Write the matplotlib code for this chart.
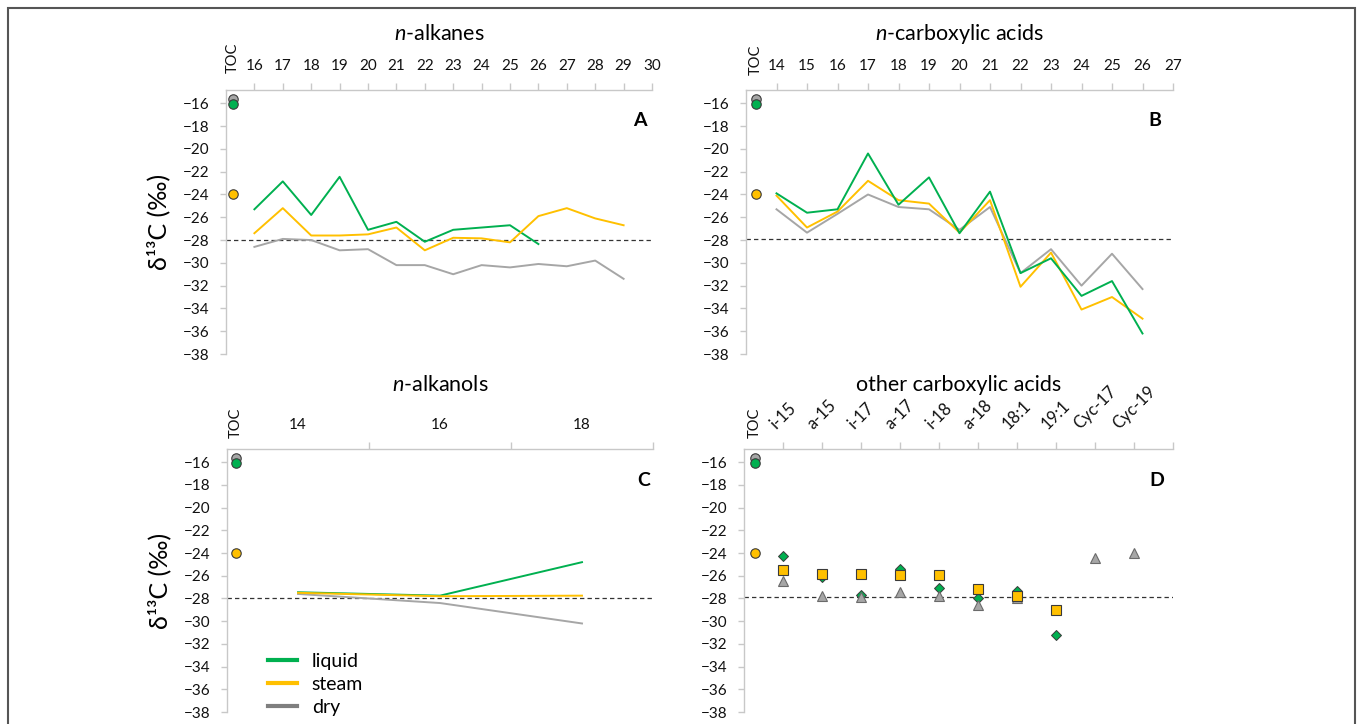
import numpy as np
import matplotlib
matplotlib.use('Agg')
import matplotlib.pyplot as plt
from matplotlib.lines import Line2D
from matplotlib.patches import Rectangle


plt.rcParams['font.family'] = ['Lato', 'DejaVu Sans']
plt.rcParams['mathtext.fontset'] = 'custom'
plt.rcParams['mathtext.rm'] = 'Lato'
plt.rcParams['mathtext.it'] = 'Lato:italic'

GREEN = '#00B050'
YELLOW = '#FFC000'
GRAY = '#A6A6A6'
EDGE = '#3a3a3a'
AXIS = '#c8c8c8'

# TOC values (liquid, steam, dry)
toc_liquid = -16.05
toc_steam = -23.95
toc_dry = -15.6

# A: n-alkanes
alk_x = list(range(16, 30))
alk_liquid = [-25.3, -22.85, -25.8, -22.45, -27.1, -26.4, -28.15, -27.1, -26.9, -26.7, -28.35]
alk_steam = [-27.4, -25.2, -27.6, -27.6, -27.5, -26.9, -28.9, -27.8, -27.85, -28.2, -25.9, -25.2, -26.1, -26.7]
alk_dry = [-28.6, -27.9, -28.0, -28.9, -28.8, -30.2, -30.2, -31.0, -30.2, -30.4, -30.1, -30.3, -29.8, -31.4]

# B: n-carboxylic acids
acid_x = list(range(14, 27))
acid_liquid = [-23.9, -25.6, -25.3, -20.4, -24.9, -22.5, -27.4, -23.75, -30.9, -29.6, -32.9, -31.6, -36.2]
acid_steam = [-24.1, -26.9, -25.5, -22.8, -24.5, -24.8, -27.35, -24.5, -32.1, -29.1, -34.1, -33.0, -34.9]
acid_dry = [-25.3, -27.35, -25.7, -24.0, -25.1, -25.3, -27.1, -25.1, -30.9, -28.8, -32.0, -29.2, -32.3]

# C: n-alkanols
alc_x = [14, 16, 18]
alc_liquid = [-27.45, -27.75, -24.8]
alc_steam = [-27.5, -27.8, -27.75]
alc_dry = [-27.6, -28.4, -30.2]

# D: other carboxylic acids
other_labels = ['i-15', 'a-15', 'i-17', 'a-17', 'i-18', 'a-18', '18:1', '19:1', 'Cyc-17', 'Cyc-19']
other_liquid = [-24.3, -26.1, -27.7, -25.4, -27.05, -28.0, -27.35, -31.25, np.nan, np.nan]
other_steam = [-25.5, -25.8, -25.8, -25.9, -25.9, -27.2, -27.8, -29.0, np.nan, np.nan]
other_dry = [-26.5, -27.8, -27.9, -27.45, -27.8, -28.6, -28.0, np.nan, -24.4, -24.0]

TICK_FS = 11


def style_axes(ax, xlim, ref):
    ax.set_xlim(*xlim)
    ax.set_ylim(-38, -14.83)
    ax.set_yticks(range(-38, -15, 2))
    for s in ['right', 'bottom']:
        ax.spines[s].set_visible(False)
    for s in ['left', 'top']:
        ax.spines[s].set_color(AXIS)
        ax.spines[s].set_linewidth(1.0)
    ax.xaxis.tick_top()
    ax.tick_params(axis='y', direction='out', length=4, width=1, color=AXIS,
                   labelsize=TICK_FS, pad=8, labelcolor='#111111')
    ax.tick_params(axis='x', direction='out', length=5, width=1, color=AXIS,
                   labelsize=TICK_FS, pad=7, labelcolor='#111111')
    ax.axhline(ref, color='#333333', lw=0.9, ls=(0, (3.5, 2.5)), zorder=1)


def add_toc(ax, x, off):
    ax.plot([x], [toc_dry], 'o', ms=6.8, mfc=GRAY, mec=EDGE, mew=0.8, zorder=4)
    ax.plot([x], [toc_liquid], 'o', ms=6.8, mfc=GREEN, mec=EDGE, mew=0.8, zorder=5)
    ax.plot([x], [toc_steam], 'o', ms=6.8, mfc=YELLOW, mec=EDGE, mew=0.8, zorder=5)
    ax.annotate('TOC', xy=(x, 1), xycoords=('data', 'axes fraction'),
                xytext=(0, off), textcoords='offset points', rotation=90,
                ha='center', va='bottom', fontsize=10.5, color='#111111')


def add_title(ax, title, letter, off, lx, ly):
    ax.annotate(title, xy=(0.5, 1), xycoords='axes fraction', xytext=(0, off),
                textcoords='offset points', ha='center', va='baseline', fontsize=15.5)
    ax.text(lx, ly, letter, transform=ax.transAxes, fontsize=14,
            fontweight='bold', ha='center', va='center')


def ylabel(ax):
    ax.set_ylabel('\u03b4\u00b9\u00b3C (\u2030)', fontsize=18, labelpad=9)


fig = plt.figure(figsize=(13.57, 7.24), dpi=100)
W, H = 1357, 724

axA = fig.add_axes([226 / W, 1 - 354 / H, 426 / W, 264 / H])
axB = fig.add_axes([746 / W, 1 - 354 / H, 427 / W, 264 / H])
axC = fig.add_axes([227 / W, 1 - 712 / H, 426 / W, 263 / H])
axD = fig.add_axes([744 / W, 1 - 712 / H, 429 / W, 263 / H])

# A
style_axes(axA, (15, 30), -28.0)
axA.plot(alk_x[:len(alk_liquid)], alk_liquid, color=GREEN, lw=1.4, zorder=3)
axA.plot(alk_x, alk_steam, color=YELLOW, lw=1.4, zorder=3)
axA.plot(alk_x, alk_dry, color=GRAY, lw=1.4, zorder=2)
axA.set_xticks(list(range(16, 31)))
add_toc(axA, 15.25, 12)
add_title(axA, '$n$-alkanes', 'A', 36, 0.972, 0.886)
ylabel(axA)

# B
style_axes(axB, (13, 27), -27.9)
axB.plot(acid_x, acid_dry, color=GRAY, lw=1.4, zorder=2)
axB.plot(acid_x, acid_steam, color=YELLOW, lw=1.4, zorder=3)
axB.plot(acid_x, acid_liquid, color=GREEN, lw=1.4, zorder=3)
axB.set_xticks(list(range(14, 28)))
add_toc(axB, 13.33, 11)
add_title(axB, '$n$-carboxylic acids', 'B', 36, 0.958, 0.886)

# C
style_axes(axC, (13, 19), -28.0)
axC.plot(alc_x, alc_dry, color=GRAY, lw=1.4, zorder=2)
axC.plot(alc_x, alc_liquid, color=GREEN, lw=1.4, zorder=3)
axC.plot(alc_x, alc_steam, color=YELLOW, lw=1.4, zorder=3)
axC.set_xticks(alc_x)
axC.tick_params(axis='x', length=0, pad=12)
axC.set_xticks([15, 17, 19], minor=True)
axC.tick_params(axis='x', which='minor', direction='out', length=5, width=1, color=AXIS)
add_toc(axC, 13.13, 8)
add_title(axC, '$n$-alkanols', 'C', 42, 0.977, 0.882)
ylabel(axC)
handles = [Line2D([], [], color=GREEN, lw=3),
           Line2D([], [], color=YELLOW, lw=3),
           Line2D([], [], color='#7F7F7F', lw=3)]
axC.legend(handles, ['liquid', 'steam', 'dry'], loc='lower left',
           bbox_to_anchor=(0.055, -0.08), frameon=False, fontsize=14,
           handlelength=1.5, handletextpad=0.75, labelspacing=0.3)

# D
style_axes(axD, (0, 11), -27.9)
pos = np.arange(1, len(other_labels) + 1)
axD.plot(pos, other_liquid, 'D', ms=5.5, mfc=GREEN, mec=EDGE, mew=0.7, ls='none', zorder=3)
axD.plot(pos, other_dry, '^', ms=7.5, mfc=GRAY, mec='#6a6a6a', mew=0.8, ls='none', zorder=4)
axD.plot(pos, other_steam, 's', ms=6.5, mfc=YELLOW, mec=EDGE, mew=0.8, ls='none', zorder=5)
axD.set_xticks(list(pos) + [11])
axD.set_xticklabels(other_labels + [''], rotation=45, ha='center', va='bottom',
                    fontsize=12)
add_toc(axD, 0.28, 8)
add_title(axD, 'other carboxylic acids', 'D', 42, 0.963, 0.882)

fig.add_artist(Rectangle((8 / W, -0.1), (1355 - 8) / W, 1.1 - 8 / H,
                         transform=fig.transFigure, fill=False,
                         edgecolor='#555555', lw=1.5))

fig.savefig('out.png', dpi=100)
